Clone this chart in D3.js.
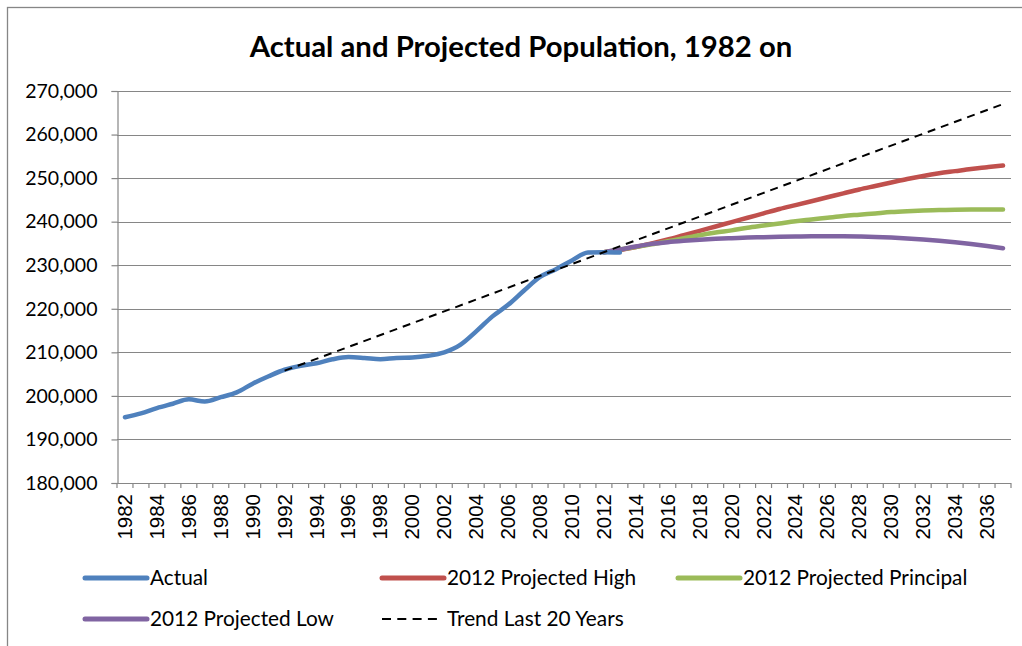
<!DOCTYPE html>
<html>
<head>
<meta charset="utf-8">
<script src="https://cdn.jsdelivr.net/npm/d3@7"></script>
<style>
  html, body { margin: 0; padding: 0; background: #fff; }
  svg { display: block; }
</style>
</head>
<body>
<svg id="chart" width="1022" height="646"></svg>
<script>
// Years on the category axis
const years = d3.range(1982, 2038);
const yTicks = [180000, 190000, 200000, 210000, 220000, 230000, 240000, 250000, 260000, 270000];

// Actual population, 1982-2013
const actualYears = d3.range(1982, 2014);
const actual = [195100, 196000, 197200, 198200, 199200, 198700, 199700, 200800, 202800, 204500,
  206000, 206900, 207500, 208400, 208900, 208700, 208400, 208700, 208800, 209200,
  210000, 211700, 214800, 218200, 220900, 224200, 227300, 229100, 231100, 232900,
  233000, 232900];

// 2012-based projections, 2012-2037
const projYears = d3.range(2012, 2038);
const projHigh = [233000, 233500, 234200, 235000, 235900, 236900, 237900, 238900, 239900, 240900,
  241900, 242900, 243800, 244700, 245600, 246500, 247400, 248200, 249000, 249800,
  250500, 251100, 251600, 252100, 252500, 252900];
const projPrincipal = [233000, 233600, 234200, 234800, 235500, 236200, 236900, 237500, 238000, 238600,
  239100, 239600, 240100, 240500, 240900, 241300, 241600, 241900, 242200, 242400,
  242550, 242650, 242750, 242800, 242800, 242800];
const projLow = [233000, 233600, 234300, 234900, 235300, 235600, 235850, 236050, 236200, 236350,
  236450, 236550, 236600, 236650, 236650, 236650, 236600, 236500, 236350, 236150,
  235900, 235600, 235250, 234850, 234400, 233900];

// Linear trend fitted over the last 20 years, extended to 2037
const trendYears = [1992, 2037];
const trend = [205800, 267000];

const svg = d3.select("#chart");
const plot = { left: 117, right: 1011, top: 91, bottom: 483 };
const axisColor = "#868686";
const uiFont = "Lato, 'Open Sans', sans-serif";

// Outer chart frame
svg.append("rect")
  .attr("x", 7.5).attr("y", 7.5)
  .attr("width", 1100).attr("height", 700)
  .attr("fill", "none").attr("stroke", axisColor).attr("stroke-width", 1.3);

const x = d3.scaleBand().domain(years).range([plot.left, plot.right]).paddingInner(0).paddingOuter(0);
const xc = yr => x(yr) + x.bandwidth() / 2;
const y = d3.scaleLinear().domain([180000, 270000]).range([plot.bottom, plot.top]);

// Title
svg.append("text")
  .attr("x", 521).attr("y", 57)
  .attr("text-anchor", "middle")
  .attr("font-family", uiFont)
  .attr("font-weight", "bold")
  .attr("font-size", 29.3)
  .attr("fill", "#000")
  .text("Actual and Projected Population, 1982 on");

// Horizontal gridlines
svg.append("g").selectAll("line")
  .data(yTicks.slice(1))
  .join("line")
  .attr("x1", plot.left).attr("x2", plot.right)
  .attr("y1", d => Math.round(y(d)) + 0.5).attr("y2", d => Math.round(y(d)) + 0.5)
  .attr("stroke", axisColor).attr("stroke-width", 1.2);

// Y axis
const yAxis = svg.append("g")
  .attr("transform", `translate(${plot.left + 0.5},0)`)
  .call(d3.axisLeft(y).tickValues(yTicks).tickSize(6).tickPadding(14)
    .tickFormat(d3.format(",")));
yAxis.select(".domain").attr("stroke", axisColor).attr("stroke-width", 1.2);
yAxis.selectAll(".tick line").attr("stroke", axisColor).attr("stroke-width", 1.2);
yAxis.selectAll(".tick text")
  .attr("font-family", uiFont)
  .attr("font-size", 19.5)
  .attr("fill", "#000");

// X axis: tick marks at category boundaries, labels every other year
const xg = svg.append("g");
xg.append("line")
  .attr("x1", plot.left).attr("x2", plot.right)
  .attr("y1", plot.bottom + 0.5).attr("y2", plot.bottom + 0.5)
  .attr("stroke", axisColor).attr("stroke-width", 1.2);
xg.selectAll("line.tk")
  .data(years.concat([years[years.length - 1] + 1]))
  .join("line")
  .attr("class", "tk")
  .attr("x1", (d, i) => plot.left + i * x.bandwidth())
  .attr("x2", (d, i) => plot.left + i * x.bandwidth())
  .attr("y1", plot.bottom).attr("y2", plot.bottom + 5)
  .attr("stroke", axisColor).attr("stroke-width", 1.2);
xg.selectAll("text")
  .data(years.filter(d => d % 2 === 0))
  .join("text")
  .attr("transform", d => `translate(${xc(d) + 7},${plot.bottom + 11}) rotate(-90)`)
  .attr("text-anchor", "end")
  .attr("font-family", "'Liberation Sans', Arial, sans-serif")
  .attr("font-size", 20.5)
  .attr("fill", "#000")
  .text(d => d);

// Series lines
const line = d3.line().x(d => xc(d[0])).y(d => y(d[1])).curve(d3.curveMonotoneX);
const straight = d3.line().x(d => xc(d[0])).y(d => y(d[1]));

const series = [
  { name: "2012 Projected High", years: projYears, values: projHigh, color: "#C0504D" },
  { name: "2012 Projected Principal", years: projYears, values: projPrincipal, color: "#9BBB59" },
  { name: "2012 Projected Low", years: projYears, values: projLow, color: "#8064A2" },
  { name: "Actual", years: actualYears, values: actual, color: "#4F81BD" }
];

series.forEach(s => {
  svg.append("path")
    .datum(s.years.map((yr, i) => [yr, s.values[i]]))
    .attr("d", line)
    .attr("fill", "none")
    .attr("stroke", s.color)
    .attr("stroke-width", 4.5)
    .attr("stroke-linejoin", "round")
    .attr("stroke-linecap", "round");
});

svg.append("path")
  .datum(trendYears.map((yr, i) => [yr, trend[i]]))
  .attr("d", straight)
  .attr("fill", "none")
  .attr("stroke", "#000")
  .attr("stroke-width", 2)
  .attr("stroke-dasharray", "8,6");

// Legend
const legendItems = [
  { name: "Actual", color: "#4F81BD", lx: 85, ly: 578 },
  { name: "2012 Projected High", color: "#C0504D", lx: 382, ly: 578 },
  { name: "2012 Projected Principal", color: "#9BBB59", lx: 678, ly: 578 },
  { name: "2012 Projected Low", color: "#8064A2", lx: 85, ly: 619 },
  { name: "Trend Last 20 Years", color: "#000", lx: 382, ly: 619, dashed: true }
];
const lg = svg.append("g");
legendItems.forEach(it => {
  lg.append("line")
    .attr("x1", it.lx).attr("x2", it.lx + (it.dashed ? 55 : 62))
    .attr("y1", it.ly).attr("y2", it.ly)
    .attr("stroke", it.color)
    .attr("stroke-width", it.dashed ? 2 : 5)
    .attr("stroke-linecap", it.dashed ? "butt" : "round")
    .attr("stroke-dasharray", it.dashed ? "9,6.3" : null);
  lg.append("text")
    .attr("x", it.lx + 65)
    .attr("y", it.ly + 7)
    .attr("font-family", uiFont)
    .attr("font-size", 20.8)
    .attr("fill", "#000")
    .text(it.name);
});
</script>
</body>
</html>
